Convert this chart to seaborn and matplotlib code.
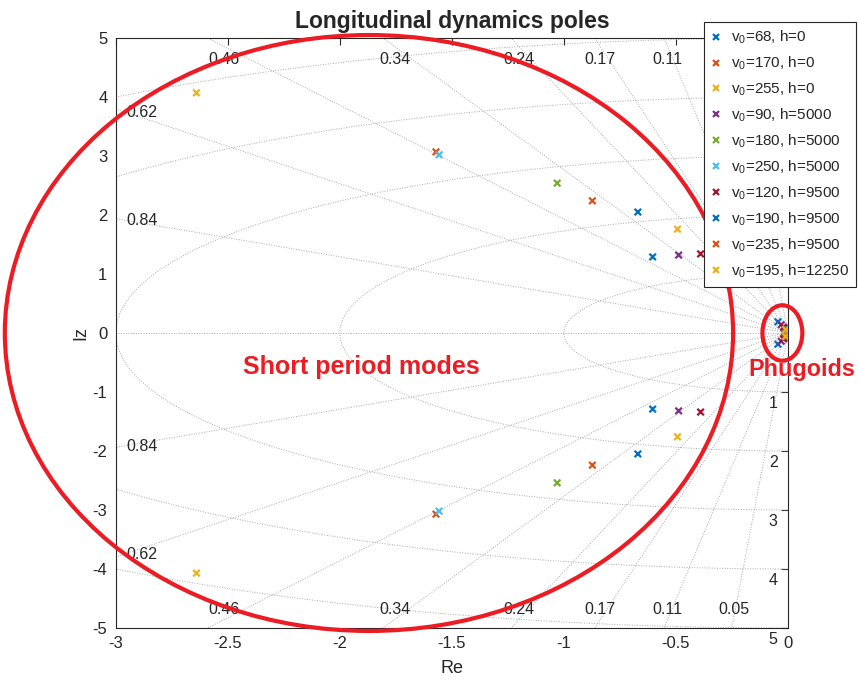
import numpy as np
import pandas as pd
import matplotlib
matplotlib.use("Agg")
import matplotlib.pyplot as plt
import seaborn as sns
from matplotlib.patches import Ellipse

# ---------------- data ----------------
series = ["v$_0$=68, h=0", "v$_0$=170, h=0", "v$_0$=255, h=0",
          "v$_0$=90, h=5000", "v$_0$=180, h=5000", "v$_0$=250, h=5000",
          "v$_0$=120, h=9500", "v$_0$=190, h=9500", "v$_0$=235, h=9500",
          "v$_0$=195, h=12250"]
colors = ["#0072BD", "#D95319", "#EDB120", "#7E2F8E", "#77AC30",
          "#4DBEEE", "#A2142F", "#0072BD", "#D95319", "#EDB120"]
# short period poles (real part, |imag part|)
sp_re = [-0.604, -1.571, -2.640, -0.488, -1.030, -1.557, -0.390, -0.670, -0.873, -0.493]
sp_im = [1.29, 3.07, 4.07, 1.32, 2.54, 3.02, 1.34, 2.05, 2.24, 1.76]
# phugoid poles (real part, |imag part|)
ph_re = [-0.045, -0.015, -0.010, -0.030, -0.015, -0.010, -0.020, -0.012, -0.010, -0.010]
ph_im = [0.19, 0.08, 0.05, 0.14, 0.07, 0.05, 0.10, 0.065, 0.05, 0.06]

x_ticks = [-3, -2.5, -2, -1.5, -1, -0.5, 0]
x_ticklabels = ["-3", "-2.5", "-2", "-1.5", "-1", "-0.5", "0"]
y_ticks = [-5, -4, -3, -2, -1, 0, 1, 2, 3, 4, 5]

zetas = [0.05, 0.11, 0.17, 0.24, 0.34, 0.46, 0.62, 0.84]
wns = [1, 2, 3, 4, 5]

rows = []
for s, a, b, c, d in zip(series, sp_re, sp_im, ph_re, ph_im):
    for re_, im_ in [(a, b), (a, -b), (c, d), (c, -d)]:
        rows.append({"Re": re_, "Iz": im_, "series": s})
df = pd.DataFrame(rows)

# ---------------- style ----------------
sns.set_style("white")
plt.rcParams["font.family"] = ["Liberation Sans", "DejaVu Sans"]
plt.rcParams["mathtext.fontset"] = "custom"
plt.rcParams["mathtext.rm"] = "Liberation Sans"
plt.rcParams["mathtext.it"] = "Liberation Sans"
plt.rcParams["axes.unicode_minus"] = False

fig = plt.figure(figsize=(8.58, 6.82), dpi=100)
ax = fig.add_axes([0.1349, 0.0792, 0.9184 - 0.1349, 0.9443 - 0.0792])

gridc = "#a8a8a8"
ls = (0, (1, 1.6))
# damping rays
for z in zetas:
    wd = np.sqrt(1 - z ** 2)
    r = np.array([0, 20])
    ax.plot(-r * z, r * wd, color=gridc, lw=0.7, ls=ls, zorder=1)
    ax.plot(-r * z, -r * wd, color=gridc, lw=0.7, ls=ls, zorder=1)
ax.plot([-20, 0], [0, 0], color=gridc, lw=0.7, ls=ls, zorder=1)
# natural frequency circles
th = np.linspace(np.pi / 2, 3 * np.pi / 2, 400)
for w in wns:
    ax.plot(w * np.cos(th), w * np.sin(th), color=gridc, lw=0.7, ls=ls, zorder=1)

# damping labels
lab_fs = 11.5
tc = "#262626"
top_lab = [(0.46, -2.516), (0.34, -1.755), (0.24, -1.20), (0.17, -0.838), (0.11, -0.537)]
for z, x in top_lab:
    ax.text(x, 4.63, f"{z:g}", ha="center", va="center", fontsize=lab_fs, color=tc, zorder=2)
for z, x in top_lab + [(0.05, -0.24)]:
    ax.text(x, -4.68, f"{z:g}", ha="center", va="center", fontsize=lab_fs, color=tc, zorder=2)
for z, y in [(0.62, 3.73), (0.84, 1.90)]:
    ax.text(-2.884, y, f"{z:g}", ha="center", va="center", fontsize=lab_fs, color=tc, zorder=2)
    ax.text(-2.884, -y - 0.03, f"{z:g}", ha="center", va="center", fontsize=lab_fs, color=tc, zorder=2)
for w in wns:
    ax.text(-0.066, -w - 0.2, f"{w}", ha="center", va="center", fontsize=lab_fs,
            color=tc, zorder=2, clip_on=False)

# poles
sns.scatterplot(data=df, x="Re", y="Iz", hue="series", hue_order=series,
                palette=dict(zip(series, colors)), marker="x", s=22,
                linewidth=1.6, ax=ax, zorder=5, legend=True)

ax.set_xlim(-3, 0)
ax.set_ylim(-5, 5)
ax.set_xticks(x_ticks)
ax.set_xticklabels(x_ticklabels)
ax.set_yticks(y_ticks)
ax.tick_params(direction="in", length=5, width=0.8, top=True, right=True,
               labelsize=12, colors=tc, pad=6)
for sp in ax.spines.values():
    sp.set_color(tc)
    sp.set_linewidth(0.8)
ax.set_xlabel("Re", fontsize=13, color=tc, labelpad=6)
ax.set_ylabel("Iz", fontsize=13, color=tc, labelpad=2)
ax.set_title("Longitudinal dynamics poles", fontsize=16.5, fontweight="bold", pad=7)

# annotations
red = "#EC1C24"
ax.add_patch(Ellipse((-1.87, 0.0), 3.25, 10.1, fill=False, ec=red, lw=3, clip_on=False, zorder=6))
ax.add_patch(Ellipse((-0.025, 0.0), 0.178, 0.94, fill=False, ec=red, lw=3, clip_on=False, zorder=6))
ax.text(-1.905, -0.58, "Short period modes", color=red, fontsize=18, fontweight="bold",
        ha="center", va="center", zorder=7)
ax.text(-0.175, -0.62, "Phugoids", color=red, fontsize=16.8, fontweight="bold",
        ha="left", va="center", zorder=7, clip_on=False)

# legend
h, l = ax.get_legend_handles_labels()
leg = ax.legend(h, l, loc="upper right", bbox_to_anchor=(0.9977, 0.9677),
                bbox_transform=fig.transFigure, fontsize=11, frameon=True,
                fancybox=False, edgecolor=tc, framealpha=1,
                handlelength=0.8, handletextpad=0.55, labelspacing=0.56,
                borderpad=0.45, borderaxespad=0, markerscale=1.0)
leg.get_frame().set_linewidth(0.8)
leg.set_zorder(10)

fig.savefig("out.png", dpi=100)
